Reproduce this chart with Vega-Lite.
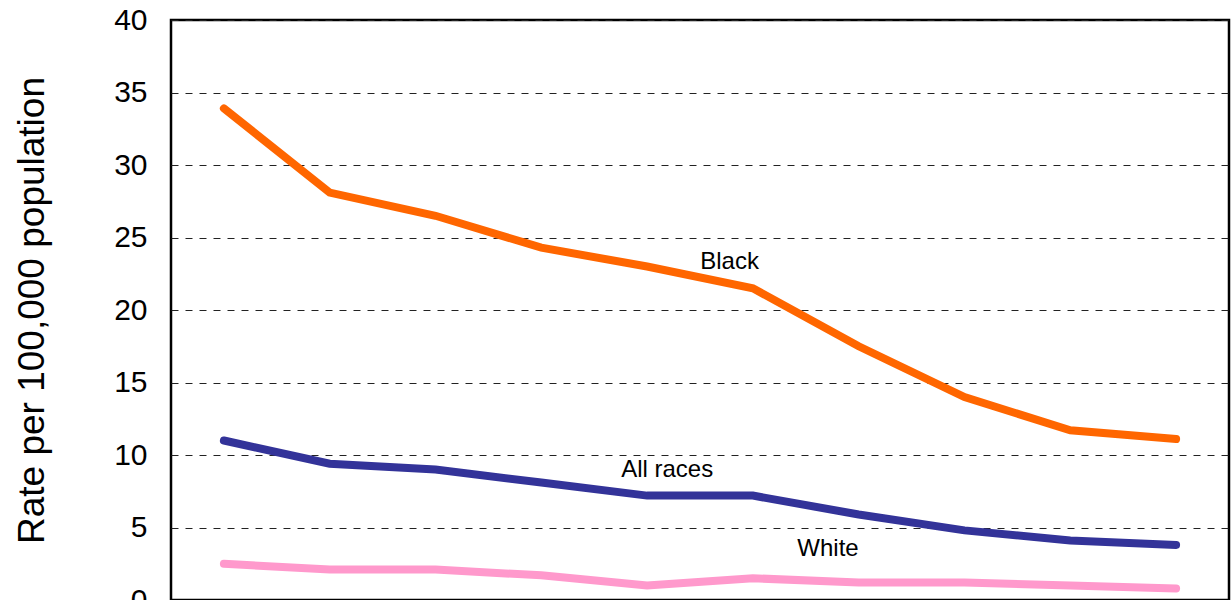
{
  "$schema": "https://vega.github.io/schema/vega-lite/v6.json",
  "width": 1058,
  "height": 580,
  "autosize": {"type": "none"},
  "padding": {"left": 171, "top": 20, "right": 2, "bottom": 0},
  "background": "white",
  "config": {
    "font": "Liberation Sans",
    "view": {"stroke": "black", "strokeWidth": 2.5}
  },
  "datasets": {
    "series": [
      {"year": 1990, "group": "Black", "rate": 33.9},
      {"year": 1991, "group": "Black", "rate": 28.1},
      {"year": 1992, "group": "Black", "rate": 26.5},
      {"year": 1993, "group": "Black", "rate": 24.3},
      {"year": 1994, "group": "Black", "rate": 23.0},
      {"year": 1995, "group": "Black", "rate": 21.5},
      {"year": 1996, "group": "Black", "rate": 17.5},
      {"year": 1997, "group": "Black", "rate": 14.0},
      {"year": 1998, "group": "Black", "rate": 11.7},
      {"year": 1999, "group": "Black", "rate": 11.1},
      {"year": 1990, "group": "All races", "rate": 11.0},
      {"year": 1991, "group": "All races", "rate": 9.4},
      {"year": 1992, "group": "All races", "rate": 9.0},
      {"year": 1993, "group": "All races", "rate": 8.1},
      {"year": 1994, "group": "All races", "rate": 7.2},
      {"year": 1995, "group": "All races", "rate": 7.2},
      {"year": 1996, "group": "All races", "rate": 5.9},
      {"year": 1997, "group": "All races", "rate": 4.8},
      {"year": 1998, "group": "All races", "rate": 4.1},
      {"year": 1999, "group": "All races", "rate": 3.8},
      {"year": 1990, "group": "White", "rate": 2.5},
      {"year": 1991, "group": "White", "rate": 2.1},
      {"year": 1992, "group": "White", "rate": 2.1},
      {"year": 1993, "group": "White", "rate": 1.7},
      {"year": 1994, "group": "White", "rate": 1.0},
      {"year": 1995, "group": "White", "rate": 1.5},
      {"year": 1996, "group": "White", "rate": 1.2},
      {"year": 1997, "group": "White", "rate": 1.2},
      {"year": 1998, "group": "White", "rate": 1.0},
      {"year": 1999, "group": "White", "rate": 0.8}
    ],
    "labels": [
      {"year": 1994.78, "rate": 23.3, "text": "Black"},
      {"year": 1994.19, "rate": 9.0, "text": "All races"},
      {"year": 1995.71, "rate": 3.5, "text": "White"}
    ]
  },
  "encoding": {
    "x": {
      "field": "year",
      "type": "quantitative",
      "scale": {"domain": [1989.5, 1999.5], "nice": false, "zero": false},
      "axis": null
    },
    "y": {
      "field": "rate",
      "type": "quantitative",
      "scale": {"domain": [0, 40], "nice": false},
      "axis": {
        "title": "Rate per 100,000 population",
        "titleFontSize": 37,
        "titleFontWeight": "normal",
        "titleColor": "black",
        "titlePadding": 62,
        "values": [0, 5, 10, 15, 20, 25, 30, 35, 40],
        "labelFontSize": 30,
        "labelColor": "black",
        "labelPadding": 24,
        "ticks": false,
        "domain": false,
        "grid": true,
        "gridColor": "#222222",
        "gridDash": [7, 7],
        "gridWidth": 1
      }
    }
  },
  "layer": [
    {
      "data": {"name": "series"},
      "mark": {"type": "line", "strokeWidth": 8, "strokeCap": "round", "strokeJoin": "miter"},
      "encoding": {
        "color": {
          "field": "group",
          "type": "nominal",
          "scale": {"domain": ["Black", "All races", "White"], "range": ["#FF6600", "#333399", "#FF99CC"]},
          "legend": null
        }
      }
    },
    {
      "data": {"name": "labels"},
      "mark": {"type": "text", "fontSize": 24, "color": "black", "align": "center", "baseline": "middle"},
      "encoding": {"text": {"field": "text", "type": "nominal"}}
    }
  ]
}
